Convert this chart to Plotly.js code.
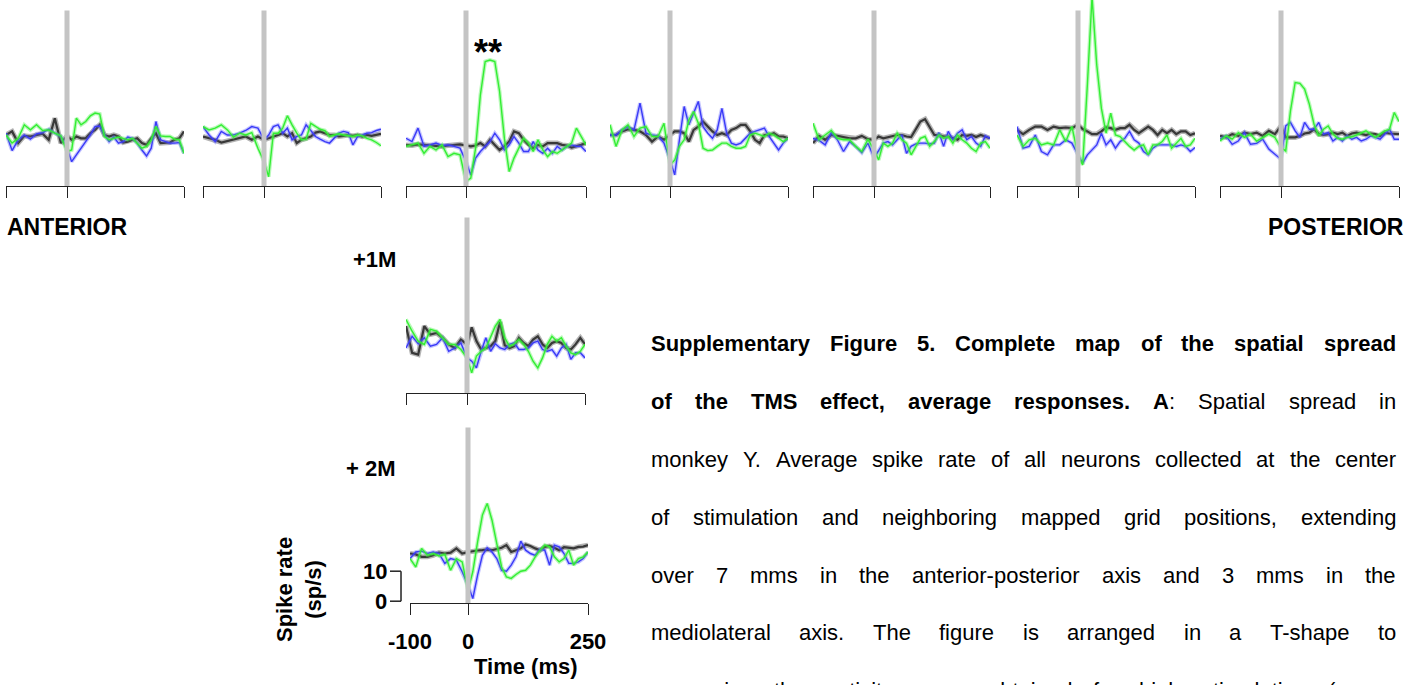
<!DOCTYPE html>
<html>
<head>
<meta charset="utf-8">
<script src="https://cdn.plot.ly/plotly-3.0.1.min.js"></script>
<style>
  html, body { margin: 0; padding: 0; background: #ffffff; }
  #chart { width: 1416px; height: 685px; }
</style>
</head>
<body>
<div id="chart"></div>
<script>
// Time bins (ms) relative to the TMS pulse
const timeMs = [-100, -90, -80, -70, -60, -50, -40, -30, -20, -10, 0,
  10, 20, 30, 40, 50, 60, 70, 80, 90, 100, 110, 120, 130, 140, 150, 160, 170, 180, 190, 200, 210, 220, 230, 240, 250];

// Average spike rate (sp/s) per grid position and condition
// Anterior-posterior row, position 1 (most anterior)
const ap1Black = [16.4,17.6,13.7,16.1,15.9,16.4,16.8,14.8,22.0,13.7,16.1, 14.8,15.9,15.3,15.3,17.0,18.1,19.8,16.4,15.9,16.4,15.9,13.9,14.2,14.8,15.3,13.7,13.1,15.3,17.0,13.7,13.7,13.9,14.8,15.3,17.6];
const ap1Blue  = [17.0,11.2,14.8,16.4,15.0,16.8,17.2,18.3,17.0,15.9,12.0, 7.5,9.8,12.0,14.2,16.4,19.2,19.4,16.4,14.2,15.7,13.7,14.2,15.7,15.3,13.7,11.4,9.4,12.0,20.9,14.8,14.2,13.7,13.7,13.9,10.3];
const ap1Green = [16.4,13.7,15.3,19.8,18.1,19.8,17.9,18.1,17.0,16.1,10.9, 11.4,22.0,19.8,20.9,22.8,23.7,23.4,15.9,14.8,15.3,15.7,15.3,14.8,15.3,13.7,12.0,12.6,14.8,19.2,16.1,15.9,15.9,15.0,14.8,10.3];
// position 2
const ap2Black = [15.9,15.3,14.8,13.9,14.4,15.0,15.3,15.9,14.8,15.9,14.8, 15.3,15.7,16.4,17.0,15.9,17.0,13.7,14.8,15.3,15.9,17.2,17.6,17.0,16.4,16.4,15.9,16.1,16.4,16.1,16.4,15.9,16.4,16.1,16.4,16.8];
const ap2Blue  = [19.2,16.4,14.2,17.6,16.4,16.4,17.0,17.9,19.2,18.7,14.8, 16.4,19.2,19.8,17.0,18.7,14.8,15.9,16.4,19.8,17.9,15.9,15.0,14.2,13.7,15.3,17.0,17.6,17.2,13.1,15.9,16.4,17.0,17.2,17.9,18.3];
const ap2Green = [19.2,18.1,18.7,19.8,18.1,15.7,17.0,16.4,17.2,12.0,7.6, 2.5,17.0,17.0,18.7,22.8,19.8,17.0,14.8,15.0,20.3,19.2,18.3,17.9,15.9,16.4,16.8,16.4,16.1,15.9,16.4,16.1,15.3,14.8,13.9,12.8];
// position 3 (center of stimulation)
const ap3Black = [13.1,12.9,13.3,13.1,12.9,12.6,12.6,12.9,13.1,13.3,12.9, 12.6,12.9,13.7,12.6,14.8,13.1,11.4,12.6,14.2,17.6,17.0,14.8,13.1,12.0,13.1,12.6,13.7,13.7,13.7,13.1,12.9,12.2,12.6,13.1,13.7];
const ap3Blue  = [15.3,14.2,18.7,12.6,13.1,13.7,12.9,13.1,12.6,12.0,7.6, 3.1,8.7,10.9,12.6,14.2,17.0,14.8,11.4,13.1,15.9,13.7,10.9,10.9,14.2,11.4,10.3,12.0,10.3,12.6,11.4,12.6,13.1,12.6,12.6,10.9];
const ap3Green = [12.6,13.1,13.7,10.3,12.6,11.4,13.1,9.2,10.3,9.8,0.9, 2.0,12.0,29.8,40.9,41.4,40.9,30.9,15.3,4.2,8.7,12.0,15.3,13.7,10.9,14.8,11.4,9.2,10.9,10.3,11.4,12.6,13.7,18.7,15.9,13.1];
// position 4
const ap4Black = [16.4,16.4,17.6,18.3,18.1,17.6,16.4,14.2,15.9,14.8,16.4, 17.6,17.6,17.0,14.2,18.1,19.2,20.9,19.2,17.6,16.4,17.0,16.4,18.1,18.7,19.8,19.8,17.6,14.8,13.7,16.4,16.4,17.0,15.9,15.9,15.3];
const ap4Blue  = [16.4,16.4,18.1,19.2,18.1,27.0,17.0,16.4,16.1,13.7,8.1, 3.1,14.8,25.9,19.8,23.7,27.6,19.2,17.0,15.3,18.1,25.3,17.0,13.7,13.1,13.7,15.3,17.0,17.6,18.1,18.7,15.9,13.7,11.4,13.7,15.3];
const ap4Green = [19.8,12.6,18.1,19.8,15.9,18.7,19.2,15.9,15.9,20.3,6.4, 8.1,12.6,14.8,21.4,24.2,20.3,12.0,11.2,11.4,12.6,13.7,13.7,12.6,12.0,12.0,12.6,16.4,17.0,16.4,15.9,17.0,16.4,15.3,14.2,15.3];
// position 5
const ap5Black = [13.7,16.1,14.8,16.4,16.1,15.7,15.3,15.3,16.1,15.0,14.8, 15.9,15.3,15.7,16.1,16.4,16.4,15.9,15.7,18.1,20.9,21.7,19.2,16.4,16.4,15.9,15.9,15.3,14.8,16.4,16.1,16.4,15.7,16.4,15.9,15.3];
const ap5Blue  = [15.3,14.6,13.1,17.2,14.8,10.9,14.2,12.6,10.5,13.7,8.7, 11.4,13.7,14.2,13.1,14.8,16.4,10.3,12.6,13.4,13.7,13.7,13.4,13.7,17.2,12.6,17.6,14.8,17.0,18.1,14.8,15.9,13.7,12.6,16.1,15.3];
const ap5Green = [20.3,14.8,16.4,17.9,15.3,14.8,14.8,12.6,10.9,15.0,11.4, 8.1,13.7,12.6,13.7,17.0,14.8,13.7,9.8,12.6,15.3,15.9,12.6,14.2,16.4,15.3,15.9,13.7,16.4,14.8,13.7,12.0,10.9,13.7,14.2,12.0];
// position 6
const ap6Black = [18.1,16.7,18.1,19.2,19.2,18.1,19.2,18.7,18.9,18.7,19.8, 18.4,17.6,16.7,16.7,17.6,18.9,18.7,18.1,18.7,18.7,19.8,18.1,17.0,18.1,19.2,18.1,16.4,18.1,17.0,18.1,16.7,17.6,17.6,16.4,17.0];
const ap6Blue  = [19.2,12.0,12.6,16.4,10.9,9.8,13.1,13.1,14.8,13.7,9.8, 7.0,9.8,11.4,13.1,17.0,13.1,14.8,12.0,14.2,15.3,17.6,14.8,13.7,10.9,9.8,12.0,13.1,13.1,13.1,13.1,12.6,13.1,12.6,10.9,12.2];
const ap6Green = [16.4,12.6,14.8,15.3,13.1,13.7,13.1,18.1,14.2,19.2,9.8, 6.4,33.1,62.5,39.8,25.3,17.0,23.7,16.4,15.9,14.2,12.6,11.4,12.6,13.1,9.8,13.1,13.1,14.2,16.4,12.0,13.7,15.3,12.6,13.1,15.3];
// position 7 (most posterior)
const ap7Black = [16.1,15.6,16.7,16.1,17.2,16.7,17.2,16.1,17.8,16.7,19.4, 15.6,15.6,15.6,16.1,16.9,17.2,18.3,16.7,16.4,16.7,17.2,16.7,17.2,16.1,16.9,17.2,16.9,16.4,16.9,16.7,16.1,17.2,16.9,16.7,16.7];
const ap7Blue  = [15.0,16.1,13.3,14.4,17.2,13.3,13.6,15.0,11.7,10.0,8.3, 19.4,20.6,17.8,15.6,20.6,18.3,18.3,20.6,16.7,17.2,14.4,15.6,14.4,16.1,15.0,15.6,14.4,15.0,16.1,15.6,15.0,16.7,18.3,15.0,15.0];
const ap7Green = [14.4,16.1,15.0,17.2,15.6,16.7,14.4,15.6,16.7,15.6,12.2, 11.1,24.4,33.9,33.6,31.7,26.7,20.0,16.1,18.3,19.4,16.7,15.3,15.0,15.6,15.8,16.4,17.2,17.8,16.7,15.6,16.7,17.8,18.3,23.9,20.9];
// Mediolateral column: +1 mm
const ml1Black = [21.7,12.8,12.2,21.7,18.9,19.4,17.8,15.6,14.4,17.2,15.6, 21.3,16.7,13.9,14.4,15.0,16.7,23.1,15.3,14.4,15.0,17.8,16.1,15.0,17.2,18.3,15.6,14.4,16.1,16.7,16.1,14.4,13.9,15.6,17.8,15.6];
const ml1Blue  = [14.4,18.3,15.8,17.8,15.0,15.6,17.8,13.3,14.4,16.1,11.1, 10.0,7.8,13.3,17.8,13.3,15.8,14.4,13.9,15.6,16.1,13.9,13.9,14.4,16.1,16.7,13.9,13.3,13.9,11.7,14.4,15.6,10.6,12.8,12.8,11.1];
const ml1Green = [23.9,20.0,16.7,15.6,20.6,20.0,17.8,15.6,15.6,13.9,11.1, 6.1,11.7,13.3,14.4,17.8,21.7,23.9,17.8,15.0,15.8,17.2,15.6,13.3,10.0,7.8,11.1,15.6,18.3,16.7,17.8,15.0,12.8,12.2,13.3,15.6];
// Mediolateral column: +2 mm
const ml2Black = [15.9,15.6,14.8,14.8,15.3,16.2,15.9,16.2,17.6,15.9,16.4, 16.7,16.9,17.0,17.2,17.0,17.3,17.8,18.7,16.4,17.0,17.6,18.9,18.4,17.6,17.0,18.1,18.4,17.8,17.0,18.0,17.8,17.6,18.1,18.2,18.7];
const ml2Blue  = [14.2,16.4,16.7,15.9,16.4,15.9,12.6,14.2,13.7,9.8,5.3, 0.9,8.7,15.3,17.8,16.4,14.2,10.3,10.0,12.0,14.8,20.0,17.0,15.9,15.3,17.3,17.0,12.0,18.7,18.1,15.9,12.6,12.6,13.1,14.2,16.4];
const ml2Green = [14.2,11.4,17.6,15.3,15.9,15.1,15.6,10.3,14.2,13.1,3.7, 9.8,19.8,28.7,32.6,27.0,19.2,11.4,8.1,7.6,8.9,10.0,10.3,12.0,14.8,17.0,18.7,18.1,14.8,13.1,14.2,17.0,12.0,14.2,14.8,16.4];

// Axis ticks and labels
const tickTimes = [-100, 0, 250];
const tickLabels = ['-100', '0', '250'];
const scaleBarValues = [0, 10];
const scaleBarLabels = ['0', '10'];

// Page geometry (px) for each panel: left end, stimulus time, right end, axis line
const W = 1416, H = 685;
const panels = [
  { L: 6,    Z: 67,   R: 184,  base: 186, black: ap1Black, blue: ap1Blue, green: ap1Green },
  { L: 203,  Z: 264,  R: 381,  base: 186, black: ap2Black, blue: ap2Blue, green: ap2Green },
  { L: 406,  Z: 466,  R: 586,  base: 186, black: ap3Black, blue: ap3Blue, green: ap3Green },
  { L: 610,  Z: 670,  R: 788,  base: 186, black: ap4Black, blue: ap4Blue, green: ap4Green },
  { L: 813,  Z: 874,  R: 990,  base: 186, black: ap5Black, blue: ap5Blue, green: ap5Green },
  { L: 1017, Z: 1078, R: 1195, base: 186, black: ap6Black, blue: ap6Blue, green: ap6Green },
  { L: 1220, Z: 1281, R: 1399, base: 186, black: ap7Black, blue: ap7Blue, green: ap7Green },
  { L: 406,  Z: 467,  R: 585,  base: 393, black: ml1Black, blue: ml1Blue, green: ml1Green },
  { L: 410,  Z: 468,  R: 588,  base: 603, black: ml2Black, blue: ml2Blue, green: ml2Green, labelled: true }
];
const PANEL_H = 186;           // px height of each panel area
const Y_RANGE = [-0.6, 61.4];  // sp/s shown in each panel (3 px per sp/s)

const FONT = 'Liberation Sans, Arial, Helvetica, sans-serif';
const styles = {
  black: { line: '#383838', lw: 2.2, band: 'rgba(105,105,105,0.5)', bw: 5.0 },
  blue:  { line: '#3a3af8', lw: 1.4, band: 'rgba(90,90,255,0.35)', bw: 3.8 },
  green: { line: '#33ee33', lw: 1.4, band: 'rgba(70,240,70,0.38)', bw: 3.8 }
};

const zeroIdx = timeMs.indexOf(0);
const axId = (n, letter) => (n === 1 ? letter : letter + n);
const axKey = (n, letter) => (n === 1 ? letter + 'axis' : letter + 'axis' + n);

const traces = [];
const layout = {
  width: W, height: H,
  margin: { l: 0, r: 0, t: 0, b: 0 },
  paper_bgcolor: '#ffffff', plot_bgcolor: 'rgba(0,0,0,0)',
  showlegend: false,
  font: { family: FONT, color: '#000000', size: 22 },
  shapes: [], annotations: []
};

panels.forEach((p, k) => {
  const preN = 2 * k + 1, postN = 2 * k + 2, yN = k + 1;
  const yDom = [1 - p.base / H, 1 - (p.base - PANEL_H) / H];

  // pre-stimulus and post-stimulus segments each get their own time axis
  const common = {
    showline: true, linecolor: '#222222', linewidth: 1,
    ticks: 'outside', ticklen: 11, tickwidth: 1, tickcolor: '#222222',
    showgrid: false, zeroline: false, fixedrange: true,
    tickmode: 'array', anchor: axId(yN, 'y'),
    tickfont: { family: FONT, size: 22, color: '#000000' },
    ticklabelstandoff: 8
  };
  layout[axKey(preN, 'x')] = Object.assign({}, common, {
    domain: [p.L / W, p.Z / W], range: [tickTimes[0], tickTimes[1]],
    tickvals: [tickTimes[0], tickTimes[1]],
    ticktext: ['<b>' + tickLabels[0] + '</b>', ''],
    showticklabels: !!p.labelled
  });
  layout[axKey(postN, 'x')] = Object.assign({}, common, {
    domain: [p.Z / W, p.R / W], range: [tickTimes[1], tickTimes[2]],
    tickvals: [tickTimes[1], tickTimes[2]],
    ticktext: ['<b>' + tickLabels[1] + '</b>', '<b>' + tickLabels[2] + '</b>'],
    showticklabels: !!p.labelled
  });
  layout[axKey(yN, 'y')] = {
    domain: yDom, range: Y_RANGE, visible: false, fixedrange: true,
    anchor: axId(preN, 'x')
  };

  ['black', 'blue', 'green'].forEach(name => {
    const vals = p[name], st = styles[name];
    [[0, zeroIdx + 1, preN], [zeroIdx, timeMs.length, postN]].forEach(([a, b, xn]) => {
      const xs = timeMs.slice(a, b), ys = vals.slice(a, b);
      traces.push({
        type: 'scatter', mode: 'lines', x: xs, y: ys,
        xaxis: axId(xn, 'x'), yaxis: axId(yN, 'y'),
        line: { color: st.band, width: st.bw }, hoverinfo: 'skip'
      });
      traces.push({
        type: 'scatter', mode: 'lines', x: xs, y: ys,
        xaxis: axId(xn, 'x'), yaxis: axId(yN, 'y'),
        line: { color: st.line, width: st.lw }, hoverinfo: 'skip'
      });
    });
  });

  // stimulus marker at 0 ms
  layout.shapes.push({
    type: 'line', layer: 'above',
    xref: axId(postN, 'x') + ' domain', x0: 0, x1: 0,
    yref: axId(yN, 'y') + ' domain', y0: 0, y1: 0.944,
    line: { color: '#c4c4c4', width: 5 }
  });

  if (p.labelled) {
    // vertical scale bar (sp/s)
    const xr = axId(preN, 'x') + ' domain', yr = axId(yN, 'y');
    const barX = -0.155, tickX = -0.345;
    layout.shapes.push({ type: 'line', xref: xr, yref: yr, x0: barX, x1: barX,
      y0: scaleBarValues[0], y1: scaleBarValues[1], line: { color: '#222222', width: 1.5 } });
    scaleBarValues.forEach((v, i) => {
      layout.shapes.push({ type: 'line', xref: xr, yref: yr, x0: tickX, x1: barX,
        y0: v, y1: v, line: { color: '#222222', width: 1.5 } });
      layout.annotations.push({ xref: xr, yref: yr, x: -0.38, y: v,
        xanchor: 'right', yanchor: 'middle', showarrow: false, borderpad: 0,
        text: '<b>' + scaleBarLabels[i] + '</b>', font: { family: FONT, size: 22, color: '#000' } });
    });
  }
});

function label(text, x, y, xanchor, size, extra) {
  layout.annotations.push(Object.assign({
    xref: 'paper', yref: 'paper', x: x / W, y: 1 - y / H,
    xanchor: xanchor, yanchor: 'middle', showarrow: false, borderpad: 0,
    text: text, font: { family: FONT, size: size, color: '#000000' }
  }, extra || {}));
}
label('<b>ANTERIOR</b>', 6, 227, 'left', 23);
label('<b>POSTERIOR</b>', 1405, 227, 'right', 23);
label('<b>+1M</b>', 397, 259, 'right', 22);
label('<b>+ 2M</b>', 397, 468, 'right', 22);
label('<b>**</b>', 488, 52, 'center', 36);
label('<b>Spike rate</b><br><b>(sp/s)</b>', 299, 590, 'center', 22, { textangle: -90 });
label('<b>Time (ms)</b>', 526, 666, 'center', 22);

// Figure legend, set as justified lines
const captionLines = [
  [['Supplementary Figure 5. Complete map of the spatial spread', true]],
  [['of the TMS effect, average responses. A', true], [': Spatial spread in', false]],
  [['monkey Y. Average spike rate of all neurons collected at the center', false]],
  [['of stimulation and neighboring mapped grid positions, extending', false]],
  [['over 7 mms in the anterior-posterior axis and 3 mms in the', false]],
  [['mediolateral axis. The figure is arranged in a T-shape to', false]],
  [['comparing the activity maps obtained for high stimulation (comp-', false]]
];
const CAP_LEFT = 650, CAP_RIGHT = 1395, CAP_SIZE = 22;
const capY = [343, 401, 459, 517, 575, 632, 690];
const ctx = document.createElement('canvas').getContext('2d');
function textWidth(t, bold) {
  ctx.font = (bold ? 'bold ' : '') + CAP_SIZE + 'px "Liberation Sans"';
  return ctx.measureText(t).width;
}
captionLines.forEach((segs, li) => {
  const words = [];
  let cur = [];
  segs.forEach(([t, bold]) => {
    for (const ch of t) {
      if (ch === ' ') { if (cur.length) { words.push(cur); cur = []; } continue; }
      const last = cur[cur.length - 1];
      if (last && last.b === bold) last.t += ch; else cur.push({ t: ch, b: bold });
    }
  });
  if (cur.length) words.push(cur);
  const widths = words.map(w => w.reduce((s, pc) => s + textWidth(pc.t, pc.b), 0));
  const total = widths.reduce((a, b) => a + b, 0);
  const gap = (CAP_RIGHT - CAP_LEFT - total) / (words.length - 1);
  let x = CAP_LEFT;
  words.forEach((w, i) => {
    const html = w.map(pc => pc.b ? '<b>' + pc.t + '</b>' : pc.t).join('');
    label(html, x, capY[li], 'left', CAP_SIZE);
    x += widths[i] + gap;
  });
});

Plotly.newPlot('chart', traces, layout, { displayModeBar: false, staticPlot: true });
</script>
</body>
</html>
